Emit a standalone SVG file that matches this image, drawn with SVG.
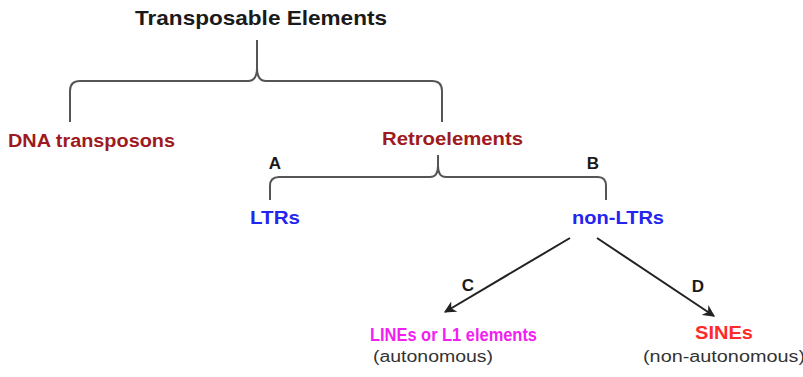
<svg xmlns="http://www.w3.org/2000/svg" width="803" height="377" viewBox="0 0 803 377">
<style>
text{font-family:"Liberation Sans",Arial,sans-serif;font-weight:bold}
.t{font-size:21px;fill:#1a1a1a}
.dr{font-size:18px;fill:#9e1a20}
.bl{font-size:18px;fill:#2424f0}
.lb{font-size:17px;fill:#1a1a1a;text-anchor:middle}
.mg{font-size:18px;fill:#f21ef2}
.rd{font-size:18px;fill:#ff2a2a}
.sub{font-size:16px;font-weight:normal;fill:#333}
.br{fill:none;stroke:#555;stroke-width:2;stroke-linejoin:round}
.ar{fill:none;stroke:#222;stroke-width:2}
</style>
<defs>
<marker id="ah" viewBox="0 0 10 10" refX="9" refY="5" markerWidth="6" markerHeight="6" orient="auto" markerUnits="strokeWidth">
<path d="M0,0 L10,5 L0,10 L3,5 Z" fill="#222"/>
</marker>
</defs>
<g id="connectors">
<path class="br" d="M70,122 V91 Q70,81 80,81 H248 Q257,81 257,68 V40 M257,68 Q257,81 266,81 H432 Q442,81 442,91 V122"/>
<path class="br" d="M270,200 V186 Q270,177 279,177 H430 Q438,177 438,166 V155 M438,166 Q438,177 446,177 H598 Q606,177 606,186 V200"/>
<line class="ar" x1="570" y1="238" x2="445" y2="312" marker-end="url(#ah)"/>
<line class="ar" x1="597" y1="238" x2="714" y2="316" marker-end="url(#ah)"/>
<text class="lb" x="275" y="169">A</text>
<text class="lb" x="593" y="169">B</text>
<text class="lb" x="468" y="291">C</text>
<text class="lb" x="698" y="292">D</text>
</g>
<g id="te"><text class="t" x="135" y="25" textLength="252" lengthAdjust="spacingAndGlyphs">Transposable Elements</text></g>
<g id="dna"><text class="dr" x="8" y="147" textLength="167" lengthAdjust="spacingAndGlyphs">DNA transposons</text></g>
<g id="retro"><text class="dr" x="382" y="145" textLength="141" lengthAdjust="spacingAndGlyphs">Retroelements</text></g>
<g id="ltrs"><text class="bl" x="250" y="224" textLength="50" lengthAdjust="spacingAndGlyphs">LTRs</text></g>
<g id="nonltrs"><text class="bl" x="572" y="224" textLength="92" lengthAdjust="spacingAndGlyphs">non-LTRs</text></g>
<g id="lines">
<text class="mg" x="370" y="341" textLength="167" lengthAdjust="spacingAndGlyphs">LINEs or L1 elements</text>
<text class="sub" x="373" y="362" textLength="120" lengthAdjust="spacingAndGlyphs">(autonomous)</text>
</g>
<g id="sines">
<text class="rd" x="695" y="339" textLength="58" lengthAdjust="spacingAndGlyphs">SINEs</text>
<text class="sub" x="643" y="362" textLength="162" lengthAdjust="spacingAndGlyphs">(non-autonomous)</text>
</g>
</svg>
